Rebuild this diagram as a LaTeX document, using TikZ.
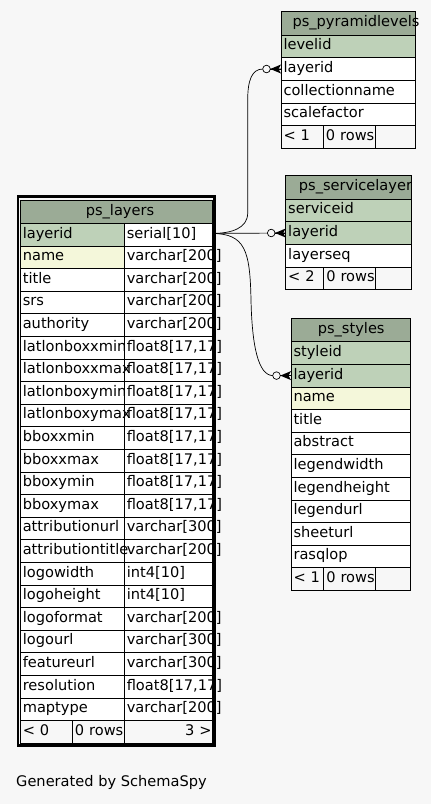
\documentclass[tikz,border=0pt]{standalone}
\usepackage{fontspec}
\setmainfont{DejaVu Sans}
\usetikzlibrary{positioning}
\hyphenpenalty=10000
\exhyphenpenalty=10000
\tikzset{cell/.style={draw, line width=0.8pt, fill=white, outer sep=0pt, inner ysep=0pt, inner xsep=2.5pt, minimum height=22.6pt, text height=10.5pt, text depth=3.5pt, align=left}}
\tikzset{pk/.style={cell, fill={rgb,255:red,190;green,209;blue,184}}}
\tikzset{idx/.style={cell, fill={rgb,255:red,244;green,247;blue,218}}}
\tikzset{head/.style={cell, fill={rgb,255:red,155;green,171;blue,150}, minimum height=23.4pt}}
\tikzset{foot/.style={cell, fill={rgb,255:red,247;green,247;blue,247}}}
\tikzset{title/.style={inner sep=0pt, text height=10.5pt, text depth=3.5pt}}
\tikzset{fk/.style={line width=0.7pt}}
\tikzset{crowodot/.pic={\draw[fk, fill={rgb,255:red,247;green,247;blue,247}] (-14.5,0) circle[radius=3.8pt]; \fill (-10.7,0) -- (0,-4.5) -- (-2.5,0) -- (0,4.5) -- cycle; \draw[fk] (-10.7,0) -- (0,0);}}

\begin{document}
\begin{tikzpicture}[x=1pt, y=-1pt, font=\fontsize{14.6pt}{17pt}\selectfont, pyr/.style={text width=129.3pt}, serv/.style={text width=120.6pt}, sty/.style={text width=114pt}, lname/.style={text width=99pt}, ltype/.style={text width=83.2pt}]
\fill[fill={rgb,255:red,247;green,247;blue,247}, use as bounding box] (0,0) rectangle (431,804);
\node[head, anchor=north west, minimum width=134.3pt] (pyr-head) at (281,11.7) {};
\node[title] (pyr-title) at ([xshift=7.8pt]pyr-head.center) {ps\_pyramidlevels};
\node[pk, pyr, below=0pt of pyr-head] (pyr-levelid) {levelid};
\node[cell, pyr, below=0pt of pyr-levelid] (pyr-layerid) {layerid};
\node[cell, pyr, below=0pt of pyr-layerid] (pyr-collectionname) {collectionname};
\node[cell, pyr, below=0pt of pyr-collectionname] (pyr-scalefactor) {scalefactor};
\node[foot, text width=37.3pt, anchor=north west] (pyr-min) at (pyr-scalefactor.south west) {< 1};
\node[foot, text width=50pt, inner xsep=1pt, align=right, right=0pt of pyr-min] (pyr-rows) {0 rows};
\node[foot, text width=35pt, right=0pt of pyr-rows] (pyr-max) {};
\node[head, anchor=north west, minimum width=125.6pt] (serv-head) at (285.7,175.7) {};
\node[title] (serv-title) at ([xshift=7pt]serv-head.center) {ps\_servicelayer};
\node[pk, serv, below=0pt of serv-head] (serv-serviceid) {serviceid};
\node[pk, serv, below=0pt of serv-serviceid] (serv-layerid) {layerid};
\node[cell, serv, below=0pt of serv-layerid] (serv-layerseq) {layerseq};
\node[foot, text width=32.6pt, anchor=north west] (serv-min) at (serv-layerseq.south west) {< 2};
\node[foot, text width=50.4pt, inner xsep=1pt, align=right, right=0pt of serv-min] (serv-rows) {0 rows};
\node[foot, text width=30.6pt, right=0pt of serv-rows] (serv-max) {};
\node[head, anchor=north west, minimum width=119pt] (sty-head) at (291,318.3) {};
\node[title] (sty-title) at ([xshift=0.7pt]sty-head.center) {ps\_styles};
\node[pk, sty, below=0pt of sty-head] (sty-styleid) {styleid};
\node[pk, sty, below=0pt of sty-styleid] (sty-layerid) {layerid};
\node[idx, sty, below=0pt of sty-layerid] (sty-name) {name};
\node[cell, sty, below=0pt of sty-name] (sty-title-row) {title};
\node[cell, sty, below=0pt of sty-title-row] (sty-abstract) {abstract};
\node[cell, sty, below=0pt of sty-abstract] (sty-legendwidth) {legendwidth};
\node[cell, sty, below=0pt of sty-legendwidth] (sty-legendheight) {legendheight};
\node[cell, sty, below=0pt of sty-legendheight] (sty-legendurl) {legendurl};
\node[cell, sty, below=0pt of sty-legendurl] (sty-sheeturl) {sheeturl};
\node[cell, sty, below=0pt of sty-sheeturl] (sty-rasqlop) {rasqlop};
\node[foot, text width=27.3pt, anchor=north west] (sty-min) at (sty-rasqlop.south west) {< 1};
\node[foot, text width=50.4pt, inner xsep=1pt, align=right, right=0pt of sty-min] (sty-rows) {0 rows};
\node[foot, text width=29.3pt, right=0pt of sty-rows] (sty-max) {};
\node[head, anchor=north west, minimum width=192.2pt] (lay-head) at (20.3,199.9) {};
\node[title] (lay-title) at ([xshift=3.6pt]lay-head.center) {ps\_layers};
\node[cell, ltype, anchor=north east] (lay-layerid-t) at (lay-head.south east) {serial[10]};
\node[pk, lname, left=0pt of lay-layerid-t] (lay-layerid) {layerid};
\node[cell, ltype, below=0pt of lay-layerid-t] (lay-name-t) {varchar[200]};
\node[idx, lname, left=0pt of lay-name-t] (lay-name) {name};
\node[cell, ltype, below=0pt of lay-name-t] (lay-title-t) {varchar[200]};
\node[cell, lname, left=0pt of lay-title-t] (lay-title-row) {title};
\node[cell, ltype, below=0pt of lay-title-t] (lay-srs-t) {varchar[200]};
\node[cell, lname, left=0pt of lay-srs-t] (lay-srs) {srs};
\node[cell, ltype, below=0pt of lay-srs-t] (lay-authority-t) {varchar[200]};
\node[cell, lname, left=0pt of lay-authority-t] (lay-authority) {authority};
\node[cell, ltype, below=0pt of lay-authority-t] (lay-llxmin-t) {float8[17,17]};
\node[cell, lname, left=0pt of lay-llxmin-t] (lay-llxmin) {latlonboxxmin};
\node[cell, ltype, below=0pt of lay-llxmin-t] (lay-llxmax-t) {float8[17,17]};
\node[cell, lname, left=0pt of lay-llxmax-t] (lay-llxmax) {latlonboxxmax};
\node[cell, ltype, below=0pt of lay-llxmax-t] (lay-llymin-t) {float8[17,17]};
\node[cell, lname, left=0pt of lay-llymin-t] (lay-llymin) {latlonboxymin};
\node[cell, ltype, below=0pt of lay-llymin-t] (lay-llymax-t) {float8[17,17]};
\node[cell, lname, left=0pt of lay-llymax-t] (lay-llymax) {latlonboxymax};
\node[cell, ltype, below=0pt of lay-llymax-t] (lay-bbxmin-t) {float8[17,17]};
\node[cell, lname, left=0pt of lay-bbxmin-t] (lay-bbxmin) {bboxxmin};
\node[cell, ltype, below=0pt of lay-bbxmin-t] (lay-bbxmax-t) {float8[17,17]};
\node[cell, lname, left=0pt of lay-bbxmax-t] (lay-bbxmax) {bboxxmax};
\node[cell, ltype, below=0pt of lay-bbxmax-t] (lay-bbymin-t) {float8[17,17]};
\node[cell, lname, left=0pt of lay-bbymin-t] (lay-bbymin) {bboxymin};
\node[cell, ltype, below=0pt of lay-bbymin-t] (lay-bbymax-t) {float8[17,17]};
\node[cell, lname, left=0pt of lay-bbymax-t] (lay-bbymax) {bboxymax};
\node[cell, ltype, below=0pt of lay-bbymax-t] (lay-attrurl-t) {varchar[300]};
\node[cell, lname, left=0pt of lay-attrurl-t] (lay-attrurl) {attributionurl};
\node[cell, ltype, below=0pt of lay-attrurl-t] (lay-attrtitle-t) {varchar[200]};
\node[cell, lname, left=0pt of lay-attrtitle-t] (lay-attrtitle) {attributiontitle};
\node[cell, ltype, below=0pt of lay-attrtitle-t] (lay-logowidth-t) {int4[10]};
\node[cell, lname, left=0pt of lay-logowidth-t] (lay-logowidth) {logowidth};
\node[cell, ltype, below=0pt of lay-logowidth-t] (lay-logoheight-t) {int4[10]};
\node[cell, lname, left=0pt of lay-logoheight-t] (lay-logoheight) {logoheight};
\node[cell, ltype, below=0pt of lay-logoheight-t] (lay-logoformat-t) {varchar[200]};
\node[cell, lname, left=0pt of lay-logoformat-t] (lay-logoformat) {logoformat};
\node[cell, ltype, below=0pt of lay-logoformat-t] (lay-logourl-t) {varchar[300]};
\node[cell, lname, left=0pt of lay-logourl-t] (lay-logourl) {logourl};
\node[cell, ltype, below=0pt of lay-logourl-t] (lay-featureurl-t) {varchar[300]};
\node[cell, lname, left=0pt of lay-featureurl-t] (lay-featureurl) {featureurl};
\node[cell, ltype, below=0pt of lay-featureurl-t] (lay-resolution-t) {float8[17,17]};
\node[cell, lname, left=0pt of lay-resolution-t] (lay-resolution) {resolution};
\node[cell, ltype, below=0pt of lay-resolution-t] (lay-maptype-t) {varchar[200]};
\node[cell, lname, left=0pt of lay-maptype-t] (lay-maptype) {maptype};
\node[foot, text width=86.2pt, inner xsep=1pt, align=right, below=0pt of lay-maptype-t] (lay-max) {3 >};
\node[foot, text width=50pt, inner xsep=1pt, align=right, left=0pt of lay-max] (lay-rows) {0 rows};
\node[foot, text width=47pt, left=0pt of lay-rows] (lay-min) {< 0};
\draw[line width=2.7pt] ([xshift=-2.3pt, yshift=3.2pt]lay-head.north west) rectangle ([xshift=1.8pt, yshift=-2.2pt]lay-max.south east);
\coordinate (fk-src) at ([yshift=1.2pt]lay-layerid-t.east);
\draw[fk] (fk-src) .. controls (232,233.4) and (247.7,228) .. (247.7,213) -- (247.7,100) .. controls (247.7,80) and (252,69) .. ([xshift=-18pt]pyr-layerid.west) -- (pyr-layerid.west);
\draw[fk] (fk-src) -- (serv-layerid.west);
\draw[fk] (fk-src) .. controls (245,234) and (250,250) .. (251,300) .. controls (252,345) and (258,375.6) .. ([xshift=-18pt]sty-layerid.west) -- (sty-layerid.west);
\pic at (pyr-layerid.west) {crowodot};
\pic at (serv-layerid.west) {crowodot};
\pic at (sty-layerid.west) {crowodot};
\node[anchor=base west, inner sep=0pt] (credit) at (16,786.5) {Generated by SchemaSpy};
\end{tikzpicture}
\end{document}
